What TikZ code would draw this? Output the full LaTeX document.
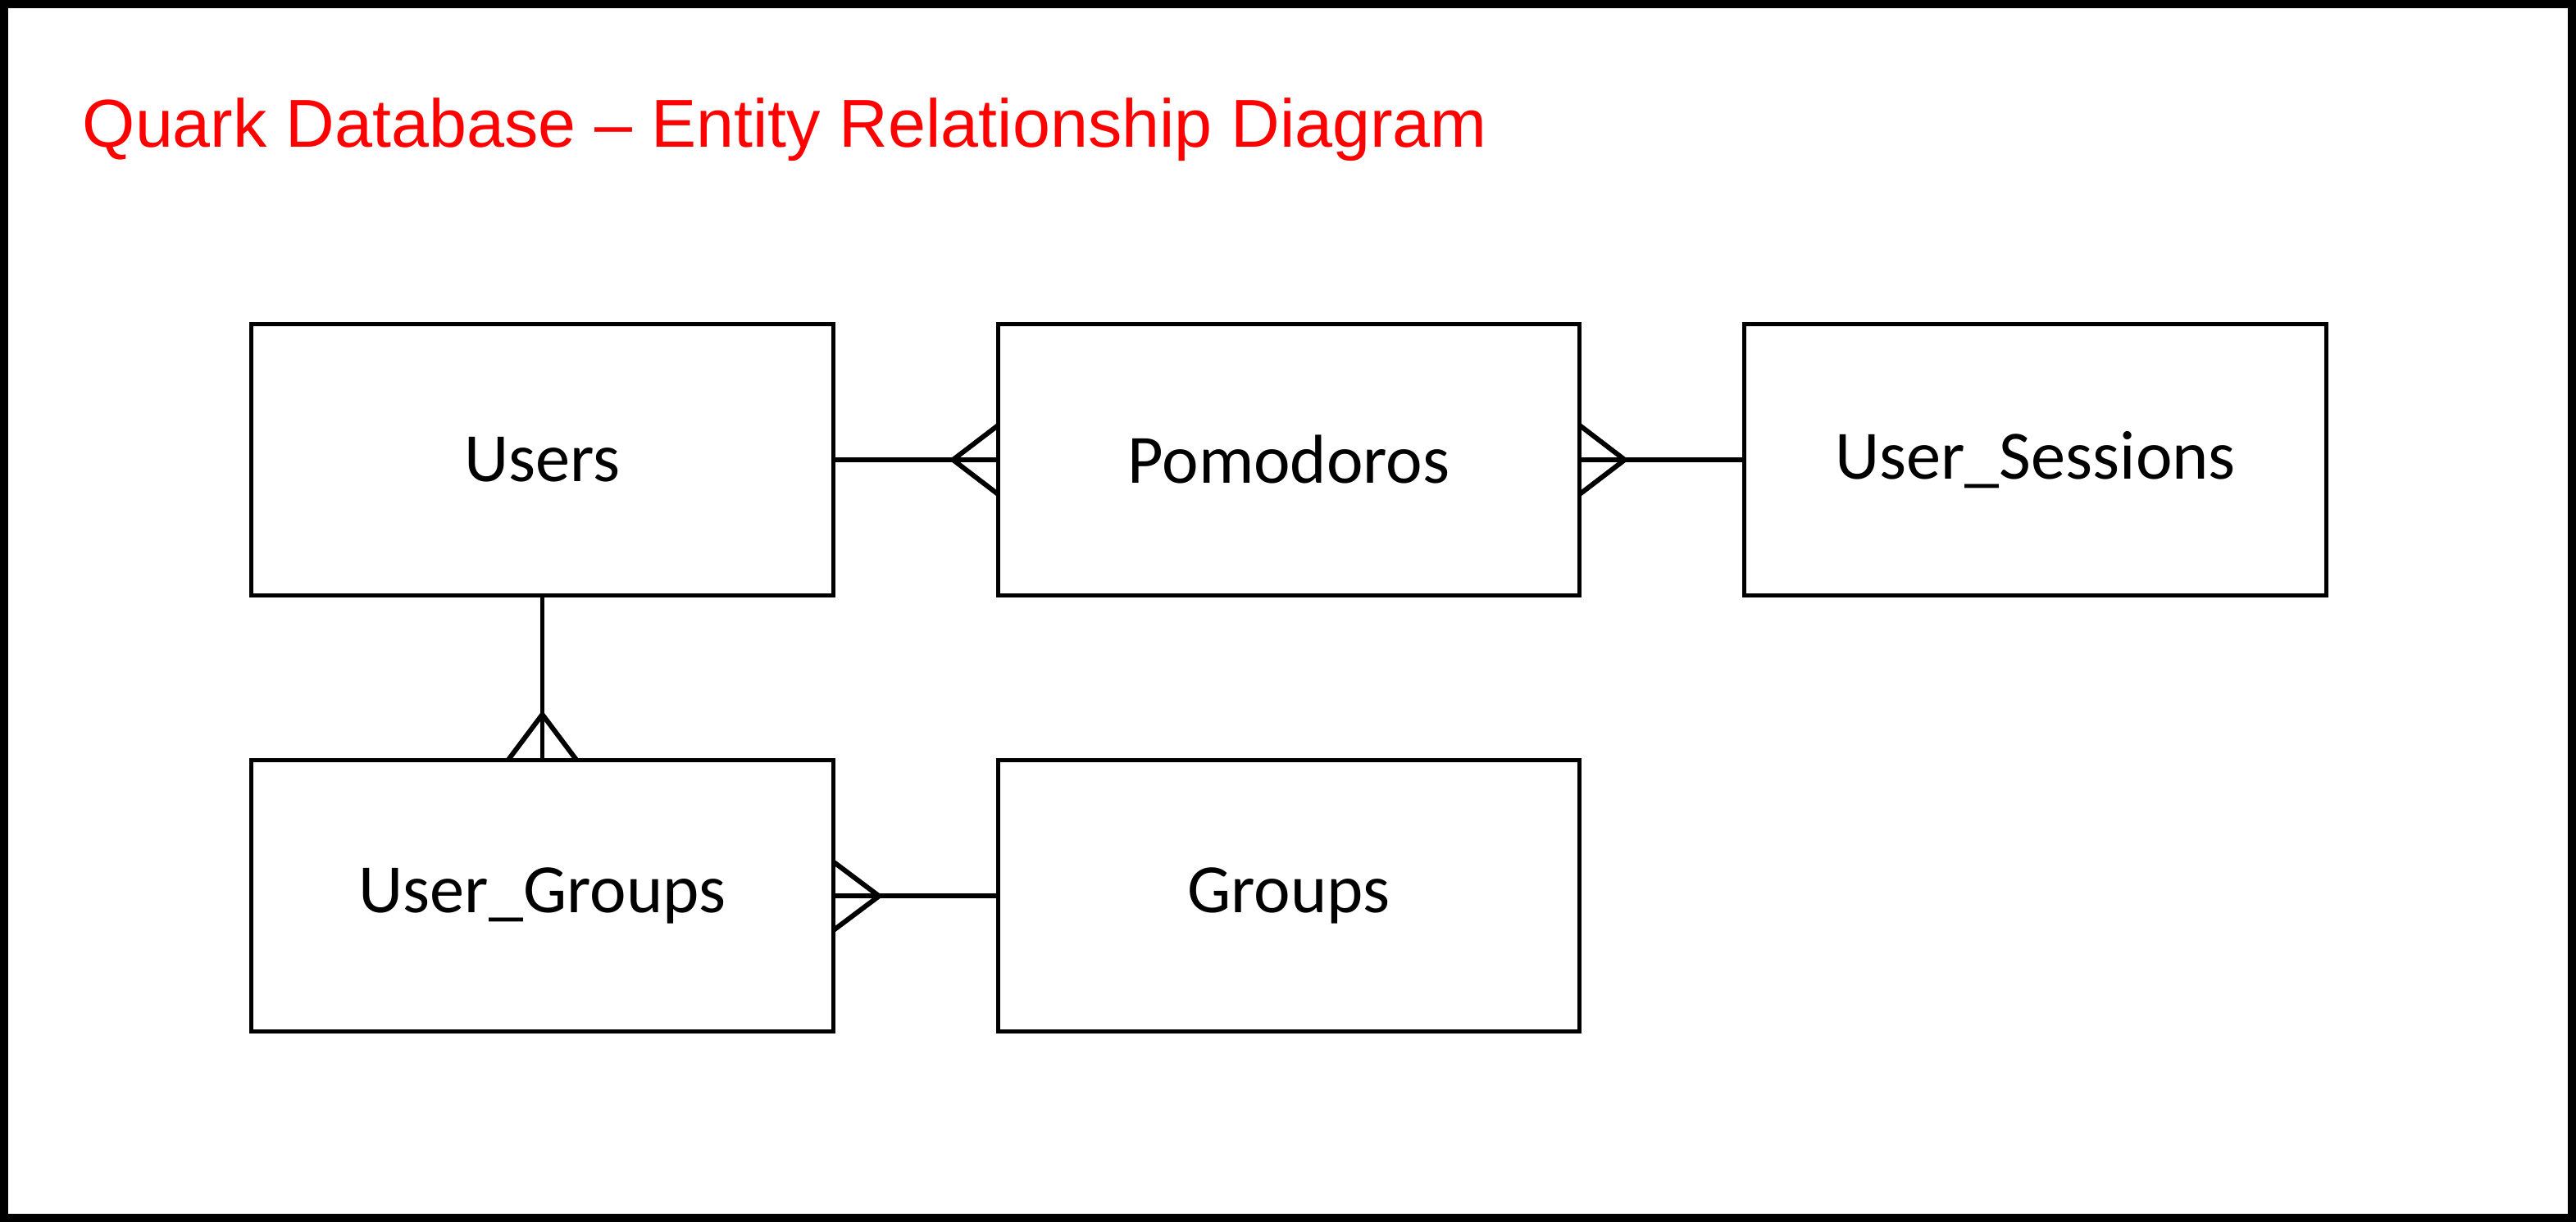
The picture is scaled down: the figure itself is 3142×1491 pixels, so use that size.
\documentclass[tikz,border=0pt]{standalone}
\usepackage{fontspec}
\usepackage{xcolor}
\usepackage{tikz}
\usetikzlibrary{positioning, calc}
\newfontfamily\titlefont{Liberation Sans}
\newfontfamily\entfont{Carlito}
\definecolor{titlered}{RGB}{255,0,0}
% crow's foot: anchor, apex offset, prong offset
\newcommand{\crowfoot}[3]{\draw[link] ($(#1)+(#2)$) -- ($(#1)+(#3)$) ($(#1)+(#2)$) -- ($(#1)-(#3)$);}

\begin{document}
\begin{tikzpicture}[x=0.01cm, y=-0.01cm,
    entity/.style={rectangle, draw=black, line width=1.4pt, outer sep=0pt, minimum width=7.09cm,
                   minimum height=3.31cm, align=center, font=\entfont\fontsize{24}{29}\selectfont},
    link/.style={draw=black, line width=1.7pt}
]
\useasboundingbox (0,0) rectangle (3142,1491);
\draw[line width=0.1cm] (5,5) rectangle (3137,1486);
\node[anchor=base west, text=titlered, inner sep=0pt,
      font=\titlefont\fontsize{23.5}{28}\selectfont] (title) at (100,180)
      {Quark Database \textendash{} Entity Relationship Diagram};

\node[entity] (users) at (661.5,561) {Users};
\node[entity, right=2.01cm of users] (pomo) {Pomodoros};
\node[entity, right=2.01cm of pomo] (sessions) {User\_Sessions};
\node[entity, below=2.01cm of users] (ugroups) {User\_Groups};
\node[entity, right=2.01cm of ugroups] (groups) {Groups};

\draw[link] (users) -- (pomo);
\draw[link] (pomo) -- (sessions);
\draw[link] (users) -- (ugroups);
\draw[link] (ugroups) -- (groups);

\crowfoot{pomo.west}{-55,0}{0,42}
\crowfoot{pomo.east}{55,0}{0,42}
\crowfoot{ugroups.north}{0,-56}{42,0}
\crowfoot{ugroups.east}{56,0}{0,42}
\end{tikzpicture}
\end{document}
